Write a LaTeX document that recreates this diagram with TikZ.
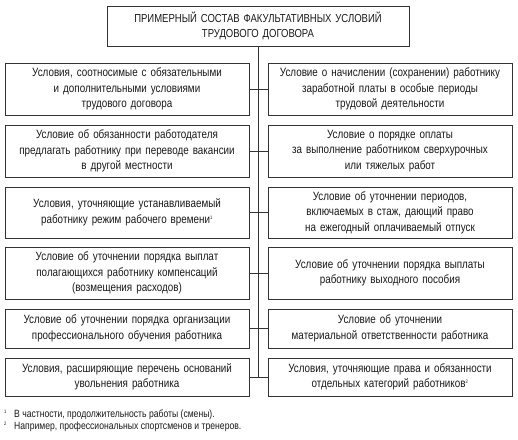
\documentclass[tikz,border=0pt]{standalone}
\usepackage{fontspec}
\setmainfont{Liberation Sans}[FakeStretch=0.82]
\usetikzlibrary{positioning}

\begin{document}
\begin{tikzpicture}
	% Styles
	[
	x=1pt,y=-1pt,
	line/.style={draw=black!80,line width=0.8pt},
	titlebox/.style={line,rectangle,inner sep=2pt,minimum width=302pt,minimum height=40pt,text width=296pt,align=center,font=\fontsize{11.6}{15.5}\selectfont,text=black!90},
	cond/.style={line,rectangle,inner sep=2pt,minimum width=244pt,text width=240pt,align=center,font=\fontsize{12}{15.5}\selectfont,text=black!90},
	note/.style={anchor=west,inner sep=0pt,font=\fontsize{10.5}{12}\selectfont,text=black!90},
	]

	\useasboundingbox (0,0) rectangle (518,439);

	% Nodes
	\node at (258,26)	(title)	[titlebox]	{ПРИМЕРНЫЙ СОСТАВ ФАКУЛЬТАТИВНЫХ УСЛОВИЙ\\ТРУДОВОГО ДОГОВОРА};

	\node at (127,89)	(l1) [cond,minimum height=52pt] {Условия, соотносимые с обязательными\\и дополнительными условиями\\трудового договора};
	\node at (127,151)	(l2) [cond,minimum height=52pt] {Условие об обязанности работодателя\\предлагать работнику при переводе вакансии\\в другой местности};
	\node at (127,212.5)	(l3) [cond,minimum height=51pt] {Условия, уточняющие устанавливаемый\\работнику режим рабочего времени\textsuperscript{\tiny 1}};
	\node at (127,273)	(l4) [cond,minimum height=52pt] {Условие об уточнении порядка выплат\\полагающихся работнику компенсаций\\(возмещения расходов)};
	\node at (127,328.5)	(l5) [cond,minimum height=39pt] {Условие об уточнении порядка организации\\профессионального обучения работника};
	\node at (127,377)	(l6) [cond,minimum height=38pt] {Условия, расширяющие перечень оснований\\увольнения работника};

	\node at (390,89)	(r1) [cond,minimum height=52pt] {Условие о начислении (сохранении) работнику\\заработной платы в особые периоды\\трудовой деятельности};
	\node at (390,151)	(r2) [cond,minimum height=52pt] {Условие о порядке оплаты\\за выполнение работником сверхурочных\\или тяжелых работ};
	\node at (390,212.5)	(r3) [cond,minimum height=51pt] {Условие об уточнении периодов,\\включаемых в стаж, дающий право\\на ежегодный оплачиваемый отпуск};
	\node at (390,273)	(r4) [cond,minimum height=52pt] {Условие об уточнении порядка выплаты\\работнику выходного пособия};
	\node at (390,328.5)	(r5) [cond,minimum height=39pt] {Условие об уточнении\\материальной ответственности работника};
	\node at (390,377)	(r6) [cond,minimum height=38pt] {Условия, уточняющие права и обязанности\\отдельных категорий работников\textsuperscript{\tiny 2}};

	\coordinate (v6) at (258,377);

	% Lines
	\draw[line] (title) -- (v6);
	\draw[line] (l1) -- (r1);
	\draw[line] (l2) -- (r2);
	\draw[line] (l3) -- (r3);
	\draw[line] (l4) -- (r4);
	\draw[line] (l5) -- (r5);
	\draw[line] (l6) -- (r6);

	% Text
	\node at (4,415)	(fn1) [note] {\makebox[10pt][l]{\textsuperscript{\tiny 1}}В частности, продолжительность работы (смены).};
	\node at (4,427)	(fn2) [note] {\makebox[10pt][l]{\textsuperscript{\tiny 2}}Например, профессиональных спортсменов и тренеров.};
\end{tikzpicture}
\end{document}
